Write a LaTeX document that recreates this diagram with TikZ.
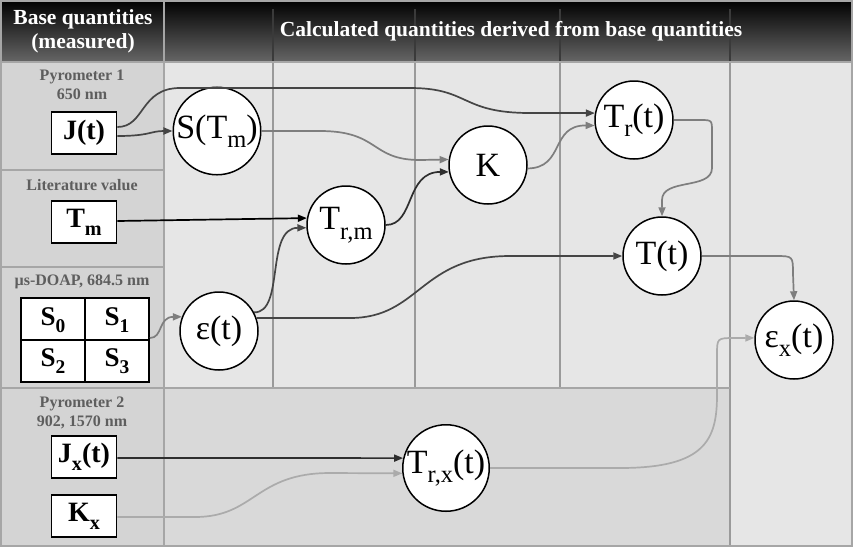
\documentclass[tikz,border=0pt]{standalone}
\usepackage{fontspec}
\setmainfont{Liberation Serif}
\usetikzlibrary{arrows.meta}
\definecolor{hdrbot}{HTML}{666666}
\definecolor{leftbg}{HTML}{D4D4D4}
\definecolor{mainbg}{HTML}{E6E6E6}
\definecolor{lowbg}{HTML}{D9D9D9}
\definecolor{rule}{HTML}{A6A6A6}
\definecolor{colrule}{HTML}{9A9A9A}
\definecolor{hdrrule}{HTML}{3A3A3A}
\definecolor{lbl}{HTML}{5E5E5E}
\definecolor{c0}{HTML}{2E2E2E}
\definecolor{c1}{HTML}{454545}
\definecolor{c2}{HTML}{7E7E7E}
\definecolor{c3}{HTML}{ABABAB}
\newcommand{\lo}[1]{\raisebox{-0.28em}{\scalebox{0.72}{#1}}}
\begin{document}
\begin{tikzpicture}[x=1pt,y=-1pt,
  box/.style={rectangle,draw=black,line width=1.8pt,fill=white,minimum width=65pt,minimum height=42pt,inner sep=0pt,font=\fontsize{28}{30}\selectfont\bfseries},
  cell/.style={inner sep=0pt,font=\fontsize{27}{29}\selectfont\bfseries},
  qty/.style={circle,draw=black,line width=1.5pt,fill=white,minimum size=78pt,inner sep=0pt,font=\fontsize{34}{36}\selectfont},
  lab/.style={text=lbl,font=\fontsize{16}{19}\selectfont\bfseries,align=center,inner sep=0pt},
  hdr/.style={text=white,font=\fontsize{21.5}{24}\selectfont\bfseries,align=center,inner sep=0pt},
  arr/.style={-{Triangle[length=9pt,width=7pt]},line width=1.7pt}]
\useasboundingbox (0,0) rectangle (853,547);
% backgrounds
\fill[leftbg] (0,62) rectangle (164,547);
\fill[mainbg] (164,62) rectangle (853,547);
\fill[lowbg] (164,388) rectangle (730,547);
\shade[top color=black,bottom color=hdrbot] (0,0) rectangle (853,62);
% header column rules
\foreach \x in {273,415,560,730} \draw[hdrrule,line width=1.2pt] (\x,9) -- (\x,62);
% body rules
\foreach \x in {273,415,560} \draw[colrule,line width=1.5pt] (\x,62) -- (\x,388);
\draw[colrule,line width=1.5pt] (730,62) -- (730,547);
\draw[rule,line width=2pt] (164,388) -- (730,388);
\draw[rule,line width=2pt] (0,62) -- (853,62);
\draw[rule,line width=2pt] (164,0) -- (164,547);
\foreach \y in {170,267,388} \draw[rule,line width=2pt] (0,\y) -- (164,\y);
\draw[rule,line width=2pt] (1,1) rectangle (852,546);
% header texts
\node[hdr] (h1) at (83,31) {Base quantities\\(measured)};
\node[hdr] (h2) at (511,31) {Calculated quantities derived from base quantities};
% left labels
\node[lab] (l1) at (82,85) {Pyrometer 1\\650 nm};
\node[lab] (l2) at (82,185) {Literature value};
\node[lab] (l3) at (82,282) {µs-DOAP, 684.5 nm};
\node[lab] (l4) at (82,413) {Pyrometer 2\\902, 1570 nm};
% base boxes
\node[box] (J) at (84,133) {J(t)};
\node[box] (Tm) at (84,222) {T\lo{m}};
\node[box] (Jx) at (84,457) {J\lo{x}(t)};
\node[box] (Kx) at (84,516) {K\lo{x}};
\node[box,minimum width=128pt,minimum height=84pt] (grid) at (85,340) {};
\draw[line width=1.8pt] (grid.north) -- (grid.south);
\draw[line width=1.8pt] (grid.west) -- (grid.east);
\node[cell] (s0) at (53,320) {S\lo{0}};
\node[cell] (s1) at (117,320) {S\lo{1}};
\node[cell] (s2) at (53,361) {S\lo{2}};
\node[cell] (s3) at (117,361) {S\lo{3}};
% derived quantities
\node[qty] (S) at (217,131) {S(T\lo{m})};
\node[qty] (Tr) at (634,120) {T\lo{r}(t)};
\node[qty] (K) at (488,165) {K};
\node[qty] (Trm) at (346,225) {T\lo{r,m}};
\node[qty] (eps) at (219,331) {ε(t)};
\node[qty] (T) at (662,256) {T(t)};
\node[qty] (ex) at (794,340) {ε\lo{x}(t)};
\node[qty] (Trx) at (446,468) {T\lo{r,x}(t)};
% connectors
\draw[arr,c1] ([yshift=6pt]J.east) .. controls (145,127) and (140,88) .. (180,88) -- (410,88) .. controls (470,88) and (460,113) .. (530,113) -- (Tr.170);
\draw[arr,c1] ([yshift=-3pt]J.east) .. controls (150,136) and (150,131) .. (S.west);
\draw[arr,c2] (S.east) -- (320,131) .. controls (380,131) and (370,160) .. (420,160) -- (K.172);
\draw[arr,c0] (Trm.east) .. controls (415,225) and (405,172) .. (K.190);
\draw[arr,c2] (K.355) .. controls (565,168) and (550,125) .. (Tr.188);
\draw[arr,c2] (Tr.east) -- (700,120) .. controls (712,120) .. (712,132) -- (712,168) .. controls (712,190) and (662,178) .. (662,200) -- (T.north);
\draw[arr,black] ([yshift=1pt]Tm.east) -- (Trm.170);
\draw[arr,c1] (eps.28) .. controls (285,313) and (265,228) .. (Trm.184);
\draw[arr,c1] (eps.19) -- (350,318) .. controls (420,318) and (420,256) .. (510,256) -- (T.west);
\draw[arr,c2] ([yshift=2pt]grid.east) .. controls (163,338) and (158,317) .. (eps.159);
\draw[arr,c2] (T.east) -- (775,256) .. controls (793,256) .. (793,274) -- (ex.north);
\draw[arr,c0] ([yshift=-1pt]Jx.east) -- (Trx.167);
\draw[arr,c3] ([yshift=-1pt]Kx.east) -- (195,517) .. controls (255,517) and (255,473) .. (330,473) -- (Trx.187);
\draw[arr,c3] (Trx.east) -- (620,468) .. controls (705,468) and (717,440) .. (717,395) -- (717,355) .. controls (717,338) .. (735,338) -- (ex.177);
\end{tikzpicture}
\end{document}
